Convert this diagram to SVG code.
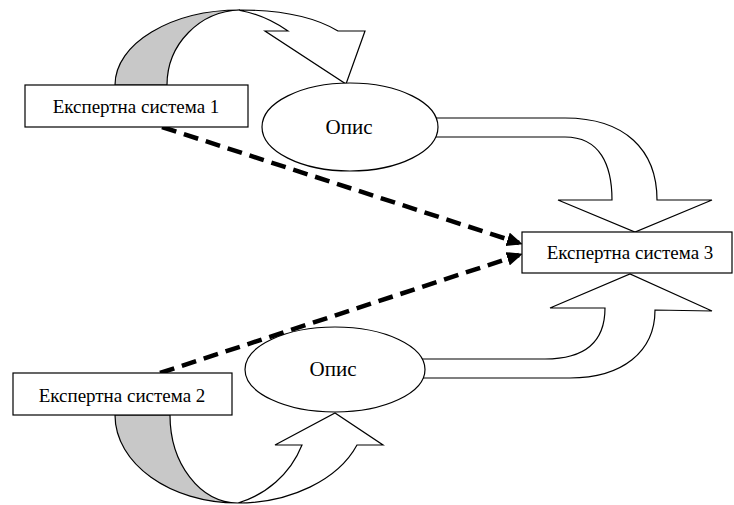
<svg xmlns="http://www.w3.org/2000/svg" width="734" height="505" viewBox="0 0 734 505">
<style>
.shape{fill:#fff;stroke:#000;stroke-width:1.2}
.gray{fill:#c8c8c8;stroke:#000;stroke-width:1.2}
.lbl{font-family:"Liberation Serif","Times New Roman",serif;font-size:19px;fill:#000;text-anchor:middle}
.big{font-size:21px}
.dash{fill:none;stroke:#000;stroke-width:4.5;stroke-dasharray:15 8}
</style>
<defs>
<marker id="ah" markerUnits="userSpaceOnUse" markerWidth="16" markerHeight="14" refX="12" refY="7" orient="auto">
<path d="M0,0 L16,7 L0,14 Z" fill="#000"/>
</marker>
</defs>
<rect width="734" height="505" fill="#fff"/>
<g id="connectors">
<g id="loop-top">
<path class="gray" d="M115,85 C115,43.6 171,10 240,10 C200,11 167,44 167,85 Z"/>
<path class="shape" d="M240,10 C288,10 318,19 338,31 L365,31 L346,84 L265,31 L288,31 C275,22 260,14 240,10.5 Z"/>
</g>
<g id="loop-bottom">
<path class="gray" d="M115,415 C115,463.6 170,503 238,503 C200,503 170,463.6 170,415 Z"/>
<path class="shape" d="M238,503 C290,503 338,480 357,445 L383,445 L335,413 L275,445 L302,445 C290,475 265,495 238,503 Z"/>
</g>
<path id="arrow-top-right" class="shape" d="M430,118 L565,118 C625,118 657,150 657,200 L712,200 L635,232 L558,200 L612,200 C612,165 600,137 565,137 L430,137 Z"/>
<path id="arrow-bottom-right" class="shape" d="M415,359 L545,359 C588,359 605,340 605,308 L550,308 L630,274 L712,311 L655,310 C655,352 622,378 570,378 L415,378 Z"/>
<line class="dash" x1="162" y1="127" x2="519" y2="243" marker-end="url(#ah)"/>
<line class="dash" x1="160" y1="373" x2="519" y2="255" marker-end="url(#ah)"/>
</g>
<g id="es1">
<rect class="shape" x="25" y="85" width="223" height="42"/>
<text class="lbl" x="136" y="113">Експертна система 1</text>
</g>
<g id="es2">
<rect class="shape" x="13" y="373" width="219" height="42"/>
<text class="lbl" x="122" y="402">Експертна система 2</text>
</g>
<g id="es3">
<rect class="shape" x="522" y="232" width="210" height="41"/>
<text class="lbl" x="630" y="259">Експертна система 3</text>
</g>
<g id="opys1">
<ellipse class="shape" cx="350" cy="127" rx="88" ry="44"/>
<text class="lbl big" x="349" y="134">Опис</text>
</g>
<g id="opys2">
<ellipse class="shape" cx="335" cy="369.5" rx="90" ry="42.5"/>
<text class="lbl big" x="333" y="376">Опис</text>
</g>
</svg>
